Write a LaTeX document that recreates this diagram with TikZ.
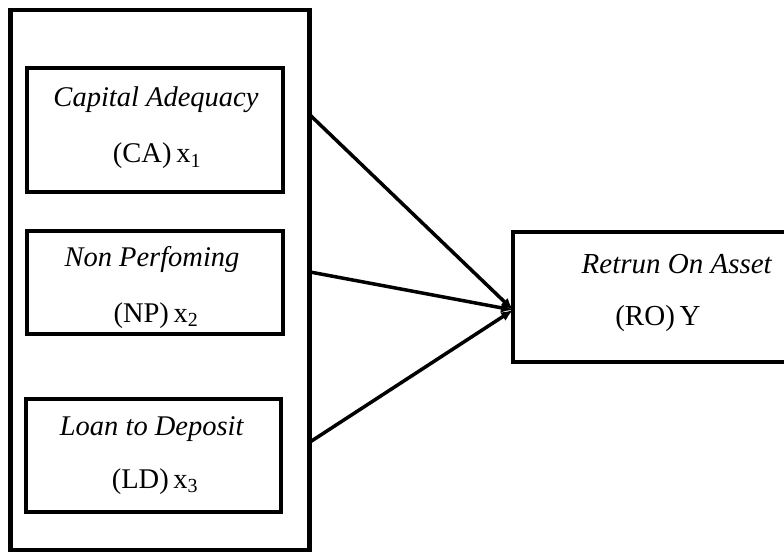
\documentclass[tikz,border=0pt]{standalone}
\usepackage{fontspec}
\setmainfont{Liberation Serif}
\usetikzlibrary{arrows.meta,positioning}

\tikzset{
  varbox/.style={draw, rectangle, line width=4.5pt, inner sep=0pt},
  vartext/.style={anchor=base, font=\fontsize{28.5}{32}\selectfont},
  path/.style={line width=3.5pt, -{Latex[length=12pt,width=10pt]}}
}

\begin{document}
\begin{tikzpicture}[x=1pt,y=-1pt]
\useasboundingbox (0,0) rectangle (784,553);
\clip (0,0) rectangle (784,553);

% independent variables in one frame
\node[varbox, minimum width=299pt, minimum height=540pt] (frame) at (160,280) {};
\node[varbox, minimum width=256pt, minimum height=124pt] (ca) at (155,130) {};
\node[varbox, minimum width=256pt, minimum height=103pt] (np) at (155,282.5) {};
\node[varbox, minimum width=255pt, minimum height=113pt] (ld) at (153.5,455.5) {};

\node[vartext] (catitle) at (156,107) {\textit{Capital Adequacy}};
\node[vartext] (casub) at (157,163) {(CA)\,x\textsubscript{1}};
\node[vartext] (nptitle) at (152,267) {\textit{Non Perfoming}};
\node[vartext] (npsub) at (156,322) {(NP)\,x\textsubscript{2}};
\node[vartext] (ldtitle) at (152,435) {\textit{Loan to Deposit}};
\node[vartext] (ldsub) at (155,488) {(LD)\,x\textsubscript{3}};

% dependent variable
\node[varbox, minimum width=300pt, minimum height=130pt] (ro) at (663,297) {};
\node[vartext, font=\fontsize{29}{32}\selectfont] (rotitle) at (677,273) {\textit{Retrun On Asset}};
\node[vartext, font=\fontsize{29}{32}\selectfont] (rosub) at (658,325) {(RO)\,Y};

% paths
\coordinate (s1) at (310,115);
\coordinate (s2) at (310,272);
\coordinate (s3) at (310,442);
\coordinate (tip) at (513,310);
\draw[path] (s1) -- (tip);
\draw[path] (s2) -- (tip);
\draw[path] (s3) -- (tip);
\end{tikzpicture}
\end{document}
